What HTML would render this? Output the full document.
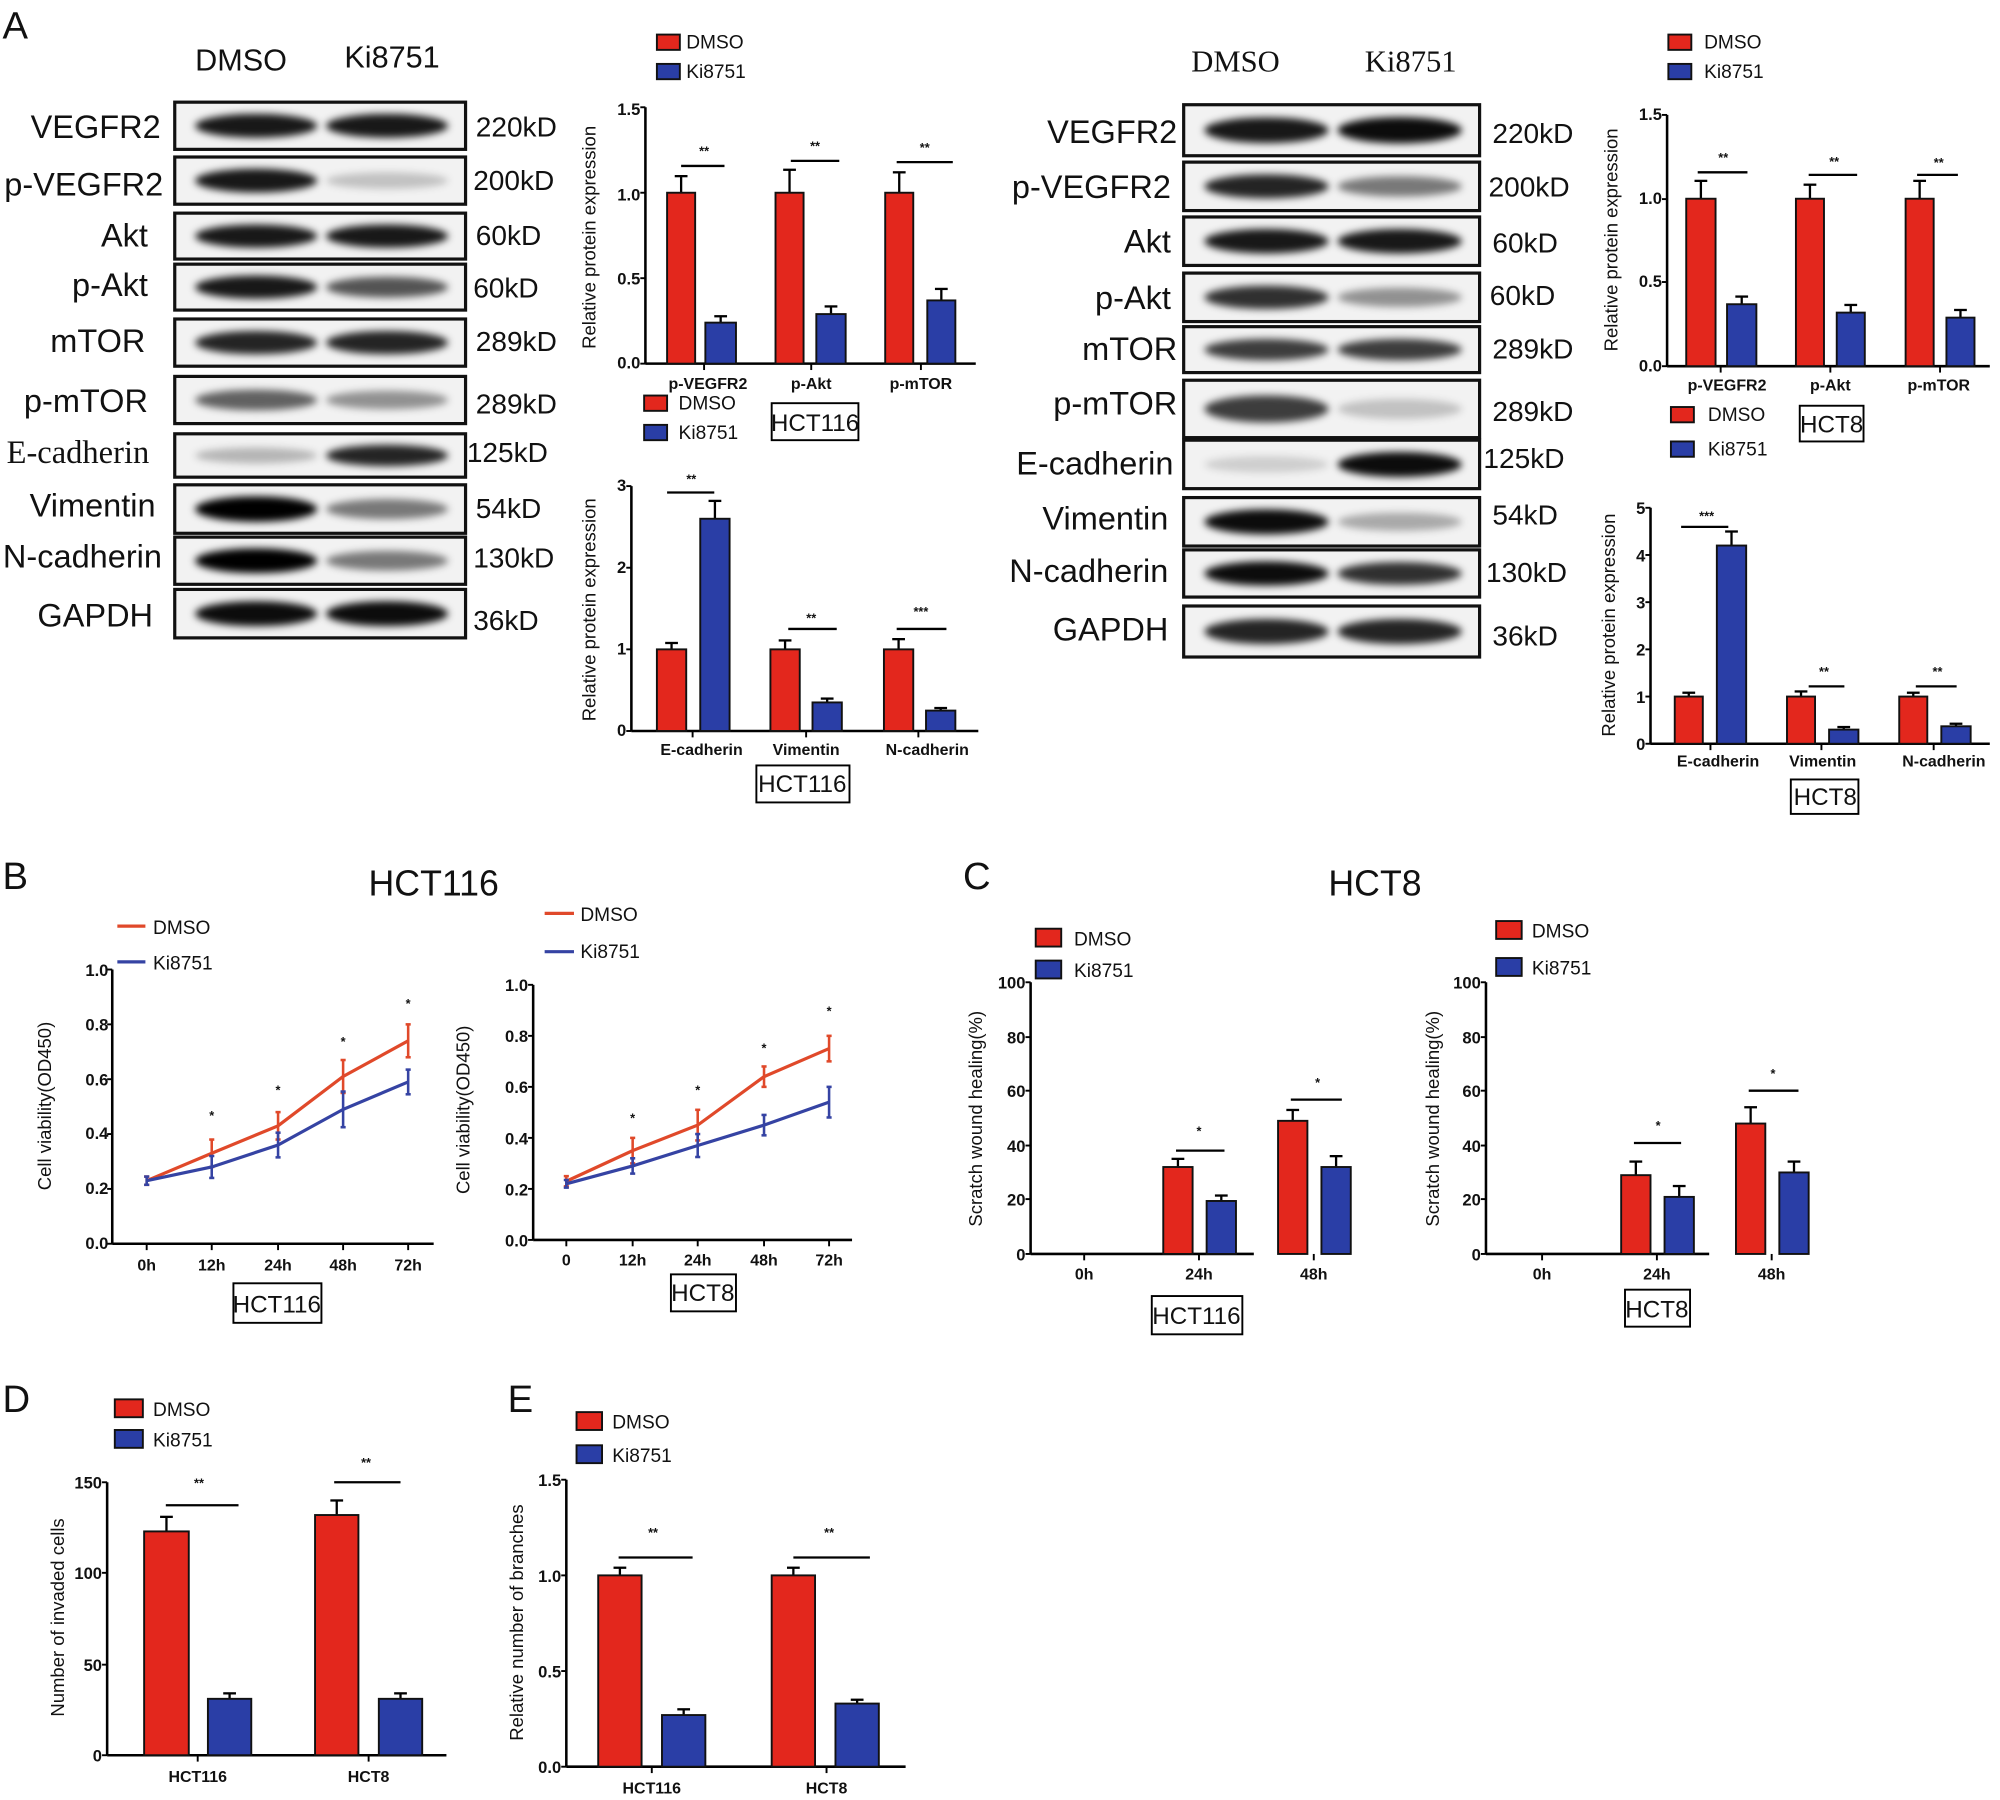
<!DOCTYPE html>
<html><head><meta charset="utf-8"><style>
html,body{margin:0;padding:0;background:#fff;width:2000px;height:1800px;overflow:hidden}
svg{display:block}
text{font-family:"Liberation Sans",sans-serif;fill:#111}
.bl{font-size:25.5px}
.kd{font-size:22px}
.tk{font-size:13px;font-weight:bold}
.xl{font-size:12.5px;font-weight:bold}
.yl{font-size:14.5px}
.lg{font-size:15px}
.st{font-size:10px;font-weight:bold}
.pl{font-size:30px}
.bx{font-size:19px}
</style></head><body>
<svg id="s" width="2000" height="1800" viewBox="0 0 1568 1411" xmlns="http://www.w3.org/2000/svg">
<defs><filter id="bl" x="-20%" y="-50%" width="140%" height="200%"><feGaussianBlur stdDeviation="3"/></filter></defs>
<g id="shapes"></g>
<text class="pl" x="2" y="30">A</text>
<text class="pl" x="2" y="697">B</text>
<text class="pl" x="755" y="697">C</text>
<text class="pl" x="2" y="1107">D</text>
<text class="pl" x="398" y="1107">E</text>
<!-- left blot -->
<text class="bl" x="153" y="55" style="font-size:24px">DMSO</text><text class="bl" x="270" y="53" style="font-size:24px">Ki8751</text>
<g class="bl" text-anchor="end">
<text x="126" y="108">VEGFR2</text><text x="128" y="153">p-VEGFR2</text><text x="116" y="193">Akt</text><text x="116" y="232">p-Akt</text><text x="114" y="276">mTOR</text><text x="116" y="323">p-mTOR</text><text x="117" y="363" style="font-family:'Liberation Serif',serif">E-cadherin</text><text x="122" y="405">Vimentin</text><text x="127" y="445">N-cadherin</text><text x="120" y="491">GAPDH</text>
</g>
<g class="kd"><text x="373" y="107">220kD</text><text x="371" y="149">200kD</text><text x="373" y="192">60kD</text><text x="371" y="233">60kD</text><text x="373" y="275">289kD</text><text x="373" y="324">289kD</text><text x="366" y="362">125kD</text><text x="373" y="406">54kD</text><text x="371" y="445">130kD</text><text x="371" y="494">36kD</text></g>
<!-- right blot -->
<text class="bl" x="934" y="56" style="font-family:'Liberation Serif',serif;font-size:24px">DMSO</text><text class="bl" x="1070" y="56" style="font-family:'Liberation Serif',serif;font-size:24px">Ki8751</text>
<g class="bl" text-anchor="end">
<text x="923" y="112">VEGFR2</text><text x="918" y="155">p-VEGFR2</text><text x="918" y="198">Akt</text><text x="918" y="242">p-Akt</text><text x="923" y="282">mTOR</text><text x="923" y="325">p-mTOR</text><text x="920" y="372">E-cadherin</text><text x="916" y="415">Vimentin</text><text x="916" y="456">N-cadherin</text><text x="916" y="502">GAPDH</text>
</g>
<g class="kd"><text x="1170" y="112">220kD</text><text x="1167" y="154">200kD</text><text x="1170" y="198">60kD</text><text x="1168" y="239">60kD</text><text x="1170" y="281">289kD</text><text x="1170" y="330">289kD</text><text x="1163" y="367">125kD</text><text x="1170" y="411">54kD</text><text x="1165" y="456">130kD</text><text x="1170" y="506">36kD</text></g>
<!-- A1 -->
<g class="tk" text-anchor="end"><text x="502" y="90">1.5</text><text x="502" y="157">1.0</text><text x="502" y="223">0.5</text><text x="502" y="289">0.0</text></g>
<text class="yl" transform="translate(467,186) rotate(-90)" text-anchor="middle">Relative protein expression</text>
<g class="xl" text-anchor="middle"><text x="555" y="305">p-VEGFR2</text><text x="636" y="305">p-Akt</text><text x="722" y="305">p-mTOR</text></g>
<g class="st" text-anchor="middle"><text x="552" y="122">**</text><text x="639" y="118">**</text><text x="725" y="119">**</text></g>
<text class="lg" x="538" y="38">DMSO</text><text class="lg" x="538" y="61">Ki8751</text>
<text class="lg" x="532" y="321">DMSO</text><text class="lg" x="532" y="344">Ki8751</text>
<text class="bx" x="639" y="338" text-anchor="middle">HCT116</text>
<!-- A2 -->
<g class="tk" text-anchor="end"><text x="491" y="385">3</text><text x="491" y="449">2</text><text x="491" y="513">1</text><text x="491" y="577">0</text></g>
<text class="yl" transform="translate(467,478) rotate(-90)" text-anchor="middle">Relative protein expression</text>
<g class="xl" text-anchor="middle"><text x="550" y="592">E-cadherin</text><text x="632" y="592">Vimentin</text><text x="727" y="592">N-cadherin</text></g>
<g class="st" text-anchor="middle"><text x="542" y="379">**</text><text x="636" y="488">**</text><text x="722" y="483">***</text></g>
<text class="bx" x="629" y="621" text-anchor="middle">HCT116</text>
<!-- A3 -->
<g class="tk" text-anchor="end"><text x="1303" y="94">1.5</text><text x="1303" y="160">1.0</text><text x="1303" y="225">0.5</text><text x="1303" y="291">0.0</text></g>
<text class="yl" transform="translate(1268,188) rotate(-90)" text-anchor="middle">Relative protein expression</text>
<g class="xl" text-anchor="middle"><text x="1354" y="306">p-VEGFR2</text><text x="1435" y="306">p-Akt</text><text x="1520" y="306">p-mTOR</text></g>
<g class="st" text-anchor="middle"><text x="1351" y="127">**</text><text x="1438" y="130">**</text><text x="1520" y="131">**</text></g>
<text class="lg" x="1336" y="38">DMSO</text><text class="lg" x="1336" y="61">Ki8751</text>
<text class="lg" x="1339" y="330">DMSO</text><text class="lg" x="1339" y="357">Ki8751</text>
<text class="bx" x="1436" y="339" text-anchor="middle">HCT8</text>
<!-- A4 -->
<g class="tk" text-anchor="end"><text x="1290" y="403">5</text><text x="1290" y="440">4</text><text x="1290" y="477">3</text><text x="1290" y="514">2</text><text x="1290" y="551">1</text><text x="1290" y="588">0</text></g>
<text class="yl" transform="translate(1266,490) rotate(-90)" text-anchor="middle">Relative protein expression</text>
<g class="xl" text-anchor="middle"><text x="1347" y="601">E-cadherin</text><text x="1429" y="601">Vimentin</text><text x="1524" y="601">N-cadherin</text></g>
<g class="st" text-anchor="middle"><text x="1338" y="408">***</text><text x="1430" y="530">**</text><text x="1519" y="530">**</text></g>
<text class="bx" x="1431" y="631" text-anchor="middle">HCT8</text>
<!-- B -->
<text x="340" y="702" font-size="28" text-anchor="middle">HCT116</text>
<text x="1078" y="702" font-size="28" text-anchor="middle">HCT8</text>
<text class="lg" x="120" y="732">DMSO</text><text class="lg" x="120" y="760">Ki8751</text>
<g class="tk" text-anchor="end"><text x="85" y="765">1.0</text><text x="85" y="808">0.8</text><text x="85" y="851">0.6</text><text x="85" y="893">0.4</text><text x="85" y="936">0.2</text><text x="85" y="979">0.0</text></g>
<text class="yl" transform="translate(40,867) rotate(-90)" text-anchor="middle">Cell viability(OD450)</text>
<g class="xl" text-anchor="middle"><text x="115" y="996">0h</text><text x="166" y="996">12h</text><text x="218" y="996">24h</text><text x="269" y="996">48h</text><text x="320" y="996">72h</text></g>
<g class="st" text-anchor="middle"><text x="166" y="878">*</text><text x="218" y="858">*</text><text x="269" y="820">*</text><text x="320" y="790">*</text></g>
<text class="bx" x="217" y="1029" text-anchor="middle">HCT116</text>
<text class="lg" x="455" y="722">DMSO</text><text class="lg" x="455" y="751">Ki8751</text>
<g class="tk" text-anchor="end"><text x="414" y="777">1.0</text><text x="414" y="817">0.8</text><text x="414" y="857">0.6</text><text x="414" y="897">0.4</text><text x="414" y="937">0.2</text><text x="414" y="977">0.0</text></g>
<text class="yl" transform="translate(368,870) rotate(-90)" text-anchor="middle">Cell viability(OD450)</text>
<g class="xl" text-anchor="middle"><text x="444" y="992">0</text><text x="496" y="992">12h</text><text x="547" y="992">24h</text><text x="599" y="992">48h</text><text x="650" y="992">72h</text></g>
<g class="st" text-anchor="middle"><text x="496" y="880">*</text><text x="547" y="858">*</text><text x="599" y="825">*</text><text x="650" y="796">*</text></g>
<text class="bx" x="551" y="1020" text-anchor="middle">HCT8</text>
<!-- C -->
<text class="lg" x="842" y="741">DMSO</text><text class="lg" x="842" y="766">Ki8751</text>
<g class="tk" text-anchor="end"><text x="804" y="775">100</text><text x="804" y="818">80</text><text x="804" y="860">60</text><text x="804" y="903">40</text><text x="804" y="945">20</text><text x="804" y="988">0</text></g>
<text class="yl" transform="translate(770,877) rotate(-90)" text-anchor="middle">Scratch wound healing(%)</text>
<g class="xl" text-anchor="middle"><text x="850" y="1003">0h</text><text x="940" y="1003">24h</text><text x="1030" y="1003">48h</text></g>
<g class="st" text-anchor="middle"><text x="940" y="890">*</text><text x="1033" y="852">*</text></g>
<text class="bx" x="938" y="1038" text-anchor="middle">HCT116</text>
<text class="lg" x="1201" y="735">DMSO</text><text class="lg" x="1201" y="764">Ki8751</text>
<g class="tk" text-anchor="end"><text x="1161" y="775">100</text><text x="1161" y="818">80</text><text x="1161" y="860">60</text><text x="1161" y="903">40</text><text x="1161" y="945">20</text><text x="1161" y="988">0</text></g>
<text class="yl" transform="translate(1128,877) rotate(-90)" text-anchor="middle">Scratch wound healing(%)</text>
<g class="xl" text-anchor="middle"><text x="1209" y="1003">0h</text><text x="1299" y="1003">24h</text><text x="1389" y="1003">48h</text></g>
<g class="st" text-anchor="middle"><text x="1300" y="886">*</text><text x="1390" y="845">*</text></g>
<text class="bx" x="1299" y="1033" text-anchor="middle">HCT8</text>
<!-- D -->
<text class="lg" x="120" y="1110">DMSO</text><text class="lg" x="120" y="1134">Ki8751</text>
<g class="tk" text-anchor="end"><text x="80" y="1167">150</text><text x="80" y="1238">100</text><text x="80" y="1310">50</text><text x="80" y="1381">0</text></g>
<text class="yl" transform="translate(50,1268) rotate(-90)" text-anchor="middle">Number of invaded cells</text>
<g class="xl" text-anchor="middle"><text x="155" y="1397">HCT116</text><text x="289" y="1397">HCT8</text></g>
<g class="st" text-anchor="middle"><text x="156" y="1166">**</text><text x="287" y="1150">**</text></g>
<!-- E -->
<text class="lg" x="480" y="1120">DMSO</text><text class="lg" x="480" y="1146">Ki8751</text>
<g class="tk" text-anchor="end"><text x="440" y="1165">1.5</text><text x="440" y="1240">1.0</text><text x="440" y="1315">0.5</text><text x="440" y="1390">0.0</text></g>
<text class="yl" transform="translate(410,1272) rotate(-90)" text-anchor="middle">Relative number of branches</text>
<g class="xl" text-anchor="middle"><text x="511" y="1406">HCT116</text><text x="648" y="1406">HCT8</text></g>
<g class="st" text-anchor="middle"><text x="512" y="1205">**</text><text x="650" y="1205">**</text></g>
</svg>
<script>
var g=document.getElementById('shapes'),NS='http://www.w3.org/2000/svg';
function el(t,a){var e=document.createElementNS(NS,t);for(var k in a)e.setAttribute(k,a[k]);g.appendChild(e);return e;}
function ln(x1,y1,x2,y2,c,w){el('line',{x1:x1,y1:y1,x2:x2,y2:y2,stroke:c||'#000','stroke-width':w||1.8});}
var R='#e3271d',B='#2a3ea6';
function bar(x1,x2,y0,y,c,e){var cx=(x1+x2)/2;ln(cx,y,cx,y-e,'#000',1.8);ln(cx-5,y-e,cx+5,y-e,'#000',1.8);el('rect',{x:x1,y:y,width:x2-x1,height:y0-y,fill:c,stroke:'#111','stroke-width':1.5});}
function axes(x,yt,yb,xr,ticks,xt){ln(x,yt,x,yb,'#000',2);ln(x,yb,xr,yb,'#000',2);ticks.forEach(function(t){ln(x-4,t,x,t,'#000',1.5)});(xt||[]).forEach(function(t){ln(t,yb,t,yb+5,'#000',1.5)});}
function box(x,y,w,h){el('rect',{x:x,y:y,width:w,height:h,fill:'none',stroke:'#000','stroke-width':1.5});}
function lgd(x,y,c,w,h){el('rect',{x:x,y:y,width:w||20,height:h||13,fill:c,stroke:'#111','stroke-width':1.5});}
function sig(x1,x2,y){ln(x1,y,x2,y,'#000',1.8);}
function blot(bx,bw,rows){rows.forEach(function(r){var y=r[0],h=r[1];el('rect',{x:bx,y:y,width:bw,height:h,fill:'#f2f2f2',stroke:'#111','stroke-width':2.5});
 var cy=y+h/2;[[0.28,r[2]],[0.73,r[3]]].forEach(function(p){el('ellipse',{cx:bx+bw*p[0],cy:cy,rx:bw*0.21,ry:h*0.22*(0.7+p[1]*0.5),fill:'#000','fill-opacity':p[1],filter:'url(#bl)'});});});}
blot(137,228,[[80,37,.9,.9],[123,37,.9,.2],[167,36,.9,.9],[207,36,.9,.65],[250,37,.85,.85],[295,37,.6,.4],[340,34,.25,.85],[380,38,1,.5],[421,37,1,.5],[462,38,.95,.95]]);
blot(928,232,[[82,40,.9,.95],[127,38,.85,.5],[170,38,.9,.9],[214,38,.8,.4],[256,36,.75,.75],[298,45,.75,.2],[345,38,.15,.95],[390,38,.95,.3],[431,37,.95,.8],[475,40,.85,.85]]);
var y0=285,s=134;axes(506,84,285,765,[84,151,218,285],[552,636,722]);
lgd(515,27,R,18,12);lgd(515,50,B,18,12);lgd(505,310,R,18,12);lgd(505,333,B,18,12);box(605,316,68,29);
bar(523,545,y0,y0-s,R,13);bar(553,577,y0,y0-.24*s,B,5);bar(608,630,y0,y0-s,R,18);bar(640,663,y0,y0-.29*s,B,6);bar(694,716,y0,y0-s,R,16);bar(727,749,y0,y0-.37*s,B,9);
sig(534,568,130);sig(620,658,126);sig(703,747,127);
y0=573;s=64;axes(495,381,573,767,[381,445,509,573],[543,632,720]);box(593,600,73,29);
bar(515,538,y0,y0-s,R,5);bar(549,572,y0,y0-2.6*s,B,14);bar(604,627,y0,y0-s,R,7);bar(637,660,y0,y0-.35*s,B,3);bar(693,716,y0,y0-s,R,8);bar(726,749,y0,y0-.25*s,B,2);
sig(523,560,386);sig(618,656,493);sig(703,742,493);
y0=287;s=131.3;axes(1307,90,287,1560,[90,156,221,287],[1349,1435,1521]);
lgd(1308,27,R,18,12);lgd(1308,50,B,18,12);lgd(1310,319,R,18,12);lgd(1310,346,B,18,12);box(1411,318,50,28);
bar(1322,1345,y0,y0-s,R,14);bar(1354,1377,y0,y0-.37*s,B,6);bar(1408,1430,y0,y0-s,R,11);bar(1440,1462,y0,y0-.32*s,B,6);bar(1494,1516,y0,y0-s,R,14);bar(1526,1548,y0,y0-.29*s,B,6);
sig(1331,1370,135);sig(1418,1456,137);sig(1503,1535,137);
y0=583;s=37;axes(1294,398,583,1560,[398,435,472,509,546,583],[1341,1428,1516]);box(1404,611,53,27);
bar(1313,1335,y0,y0-s,R,3);bar(1346,1369,y0,y0-4.2*s,B,11);bar(1401,1423,y0,y0-s,R,4);bar(1434,1457,y0,y0-.3*s,B,2);bar(1489,1511,y0,y0-s,R,3);bar(1522,1545,y0,y0-.37*s,B,2);
sig(1318,1355,413);sig(1418,1446,538);sig(1502,1534,538);
function lc(x,yt,yb,xr,xs,d,k,e1,e2){var s=yb-yt;axes(x,yt,yb,xr,[0,.2,.4,.6,.8,1].map(function(v){return yb-v*s}),xs);
 [[d,'#e0492a',e1],[k,'#3543a3',e2]].forEach(function(q){var p=q[0].map(function(v,i){return xs[i]+','+(yb-v*s)}).join(' ');el('polyline',{points:p,fill:'none',stroke:q[1],'stroke-width':2.5});
 q[0].forEach(function(v,i){var yy=yb-v*s,ee=q[2][i]*s;ln(xs[i],yy-ee,xs[i],yy+ee,q[1],2);ln(xs[i]-2,yy-ee,xs[i]+2,yy-ee,q[1],2);ln(xs[i]-2,yy+ee,xs[i]+2,yy+ee,q[1],2);});});}
lc(88,760,975,340,[115,166,218,269,320],[.23,.33,.43,.61,.74],[.23,.28,.36,.49,.59],[.015,.05,.05,.06,.06],[.015,.04,.045,.065,.045]);
ln(92,726,114,726,'#e0492a',2.5);ln(92,754,114,754,'#3543a3',2.5);box(183,1006,69,31);
lc(418,772,972,668,[444,496,547,599,650],[.23,.35,.45,.64,.75],[.22,.29,.37,.45,.54],[.02,.05,.06,.04,.05],[.015,.03,.045,.04,.06]);
ln(427,716,450,716,'#e0492a',2.5);ln(427,746,450,746,'#3543a3',2.5);box(526,999,51,29);
function wc(x,xs,v,e){var yb=983,s=2.13;axes(x,770,yb,x+175,[770,813,855,898,940,983],xs);
 bar(xs[1]-28,xs[1]-5,yb,yb-v[0]*s,R,e[0]*s);bar(xs[1]+6,xs[1]+29,yb,yb-v[1]*s,B,e[1]*s);bar(xs[2]-28,xs[2]-5,yb,yb-v[2]*s,R,e[2]*s);bar(xs[2]+6,xs[2]+29,yb,yb-v[3]*s,B,e[3]*s);}
wc(808,[850,940,1030],[32,19.5,49,32],[3,2,4,4]);sig(922,960,902);sig(1012,1052,862);
lgd(812,728,R,20,14);lgd(812,753,B,20,14);box(903,1016,71,30);
wc(1165,[1209,1299,1389],[29,21,48,30],[5,4,6,4]);sig(1281,1318,896);sig(1371,1410,855);
lgd(1173,722,R,20,14);lgd(1173,751,B,20,14);box(1274,1011,51,29);
y0=1376;s=214/150;axes(84,1162,1376,350,[1162,1233,1305,1376],[155,289]);
lgd(90,1097,R,22,14);lgd(90,1121,B,22,14);
bar(113,148,y0,y0-123*s,R,8*s);bar(163,197,y0,y0-31*s,B,3*s);bar(247,281,y0,y0-132*s,R,8*s);bar(297,331,y0,y0-31*s,B,3*s);
sig(130,187,1180);sig(262,314,1162);
y0=1385;s=150;axes(444,1160,1385,710,[1160,1235,1310,1385],[511,648]);
lgd(452,1107,R,20,14);lgd(452,1133,B,20,14);
bar(469,503,y0,y0-s,R,.04*s);bar(519,553,y0,y0-.27*s,B,.03*s);bar(605,639,y0,y0-s,R,.04*s);bar(655,689,y0,y0-.33*s,B,.02*s);
sig(485,543,1221);sig(622,682,1221);
</script>
</body></html>
